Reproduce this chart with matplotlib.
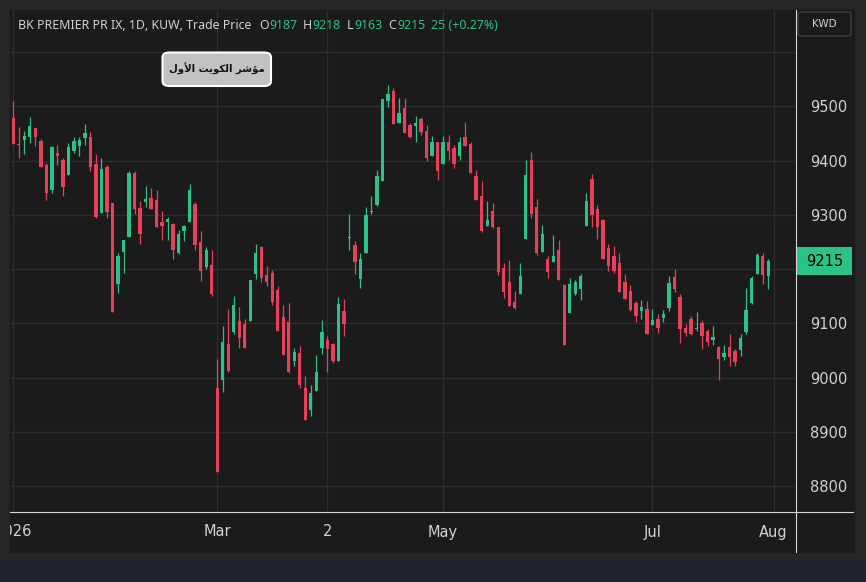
import numpy as np
import matplotlib.pyplot as plt
from matplotlib.patches import Rectangle, FancyBboxPatch
from matplotlib.lines import Line2D

# daily candles (one entry per trading day)
opens = [9478, 9431, 9438, 9443, 9460, 9436, 9391, 9345, 9414, 9401,
         9374, 9417, 9427, 9441, 9443, 9393, 9303, 9388, 9321, 9173,
         9232, 9260, 9377, 9312, 9323, 9332, 9327, 9287, 9287, 9283,
         9230, 9270, 9287, 9320, 9250, 9204, 9208, 8981, 8995, 9062,
         9084, 9104, 9099, 9104, 9191, 9241, 9189, 9193, 9162, 9112,
         9102, 9030, 9045, 8982, 8940, 8975, 9054, 9069, 9062, 9030,
         9123, 9258, 9245, 9182, 9230, 9305, 9318, 9362, 9509, 9528,
         9470, 9496, 9465, 9463, 9476, 9454, 9408, 9434, 9393, 9435,
         9424, 9408, 9443, 9430, 9371, 9334, 9280, 9308, 9277, 9203,
         9177, 9140, 9155, 9256, 9402, 9315, 9232, 9219, 9213, 9235,
         9171, 9119, 9154, 9163, 9280, 9366, 9311, 9291, 9239, 9224,
         9211, 9176, 9160, 9138, 9123, 9126, 9097, 9108, 9110, 9128,
         9186, 9149, 9091, 9108, 9089, 9101, 9086, 9069, 9056, 9038,
         9056, 9049, 9051, 9084, 9138, 9191, 9224, 9187]
highs = [9509, 9462, 9454, 9480, 9460, 9440, 9396, 9427, 9428, 9404,
         9432, 9443, 9443, 9467, 9452, 9412, 9404, 9391, 9321, 9230,
         9253, 9380, 9380, 9325, 9354, 9349, 9345, 9307, 9296, 9285,
         9272, 9282, 9357, 9324, 9270, 9241, 9235, 9034, 9095, 9127,
         9150, 9130, 9108, 9180, 9246, 9243, 9206, 9198, 9169, 9134,
         9137, 9054, 9058, 9003, 8986, 9041, 9106, 9077, 9064, 9149,
         9145, 9302, 9252, 9230, 9314, 9334, 9382, 9513, 9539, 9533,
         9515, 9515, 9469, 9482, 9480, 9465, 9445, 9435, 9445, 9448,
         9428, 9443, 9472, 9435, 9382, 9363, 9326, 9321, 9278, 9212,
         9216, 9160, 9212, 9402, 9415, 9330, 9282, 9225, 9263, 9254,
         9173, 9184, 9180, 9191, 9341, 9376, 9318, 9293, 9246, 9243,
         9230, 9191, 9171, 9141, 9143, 9141, 9126, 9117, 9125, 9187,
         9200, 9154, 9099, 9114, 9121, 9106, 9090, 9095, 9058, 9060,
         9080, 9053, 9080, 9165, 9187, 9230, 9230, 9218]
lows = [9431, 9405, 9412, 9433, 9427, 9388, 9327, 9341, 9391, 9334,
        9374, 9414, 9408, 9428, 9380, 9295, 9303, 9295, 9121, 9156,
        9193, 9260, 9302, 9247, 9314, 9310, 9278, 9254, 9254, 9219,
        9228, 9252, 9287, 9235, 9178, 9200, 9150, 8826, 8973, 9010,
        9080, 9054, 9054, 9104, 9182, 9176, 9169, 9134, 9086, 9042,
        9008, 9021, 8982, 8922, 8929, 8975, 9043, 9010, 9027, 9030,
        9077, 9235, 9191, 9166, 9229, 9301, 9317, 9362, 9498, 9467,
        9470, 9450, 9441, 9434, 9448, 9400, 9408, 9365, 9393, 9402,
        9387, 9402, 9426, 9378, 9328, 9269, 9280, 9275, 9190, 9147,
        9133, 9127, 9155, 9256, 9295, 9227, 9232, 9184, 9213, 9180,
        9060, 9119, 9152, 9143, 9280, 9278, 9256, 9219, 9197, 9193,
        9158, 9145, 9123, 9102, 9108, 9080, 9097, 9082, 9102, 9123,
        9158, 9064, 9077, 9078, 9086, 9053, 9058, 9060, 8995, 9032,
        9021, 9021, 9040, 9080, 9136, 9191, 9173, 9163]
closes = [9431, 9429, 9445, 9464, 9443, 9388, 9341, 9425, 9408, 9351,
          9425, 9436, 9438, 9451, 9388, 9297, 9384, 9306, 9121, 9225,
          9253, 9377, 9310, 9264, 9330, 9310, 9278, 9280, 9293, 9235,
          9265, 9280, 9346, 9245, 9197, 9235, 9154, 8826, 9066, 9012,
          9134, 9073, 9054, 9180, 9230, 9184, 9176, 9139, 9086, 9042,
          9010, 9047, 8986, 8922, 8971, 9010, 9084, 9053, 9030, 9136,
          9099, 9260, 9213, 9219, 9299, 9308, 9371, 9513, 9522, 9467,
          9487, 9450, 9443, 9469, 9452, 9404, 9434, 9380, 9435, 9417,
          9393, 9434, 9426, 9378, 9328, 9271, 9291, 9277, 9194, 9158,
          9133, 9129, 9188, 9373, 9302, 9229, 9264, 9194, 9224, 9180,
          9060, 9173, 9176, 9187, 9326, 9300, 9278, 9219, 9206, 9197,
          9158, 9145, 9125, 9114, 9130, 9080, 9106, 9091, 9117, 9174,
          9163, 9090, 9082, 9080, 9091, 9077, 9066, 9075, 9034, 9045,
          9038, 9029, 9073, 9125, 9184, 9226, 9190, 9215]

tick_pos = [0, 37, 57, 78, 116, 138]
tick_labels = ["2026", "Mar", "2", "May", "Jul", "Aug"]
price_ticks = [8800, 8900, 9000, 9100, 9200, 9300, 9400, 9500, 9600]

symbol = "BK PREMIER PR IX, 1D, KUW, Trade Price"
currency = "KWD"
# "مؤشر الكويت الأول" already joined into presentation forms (visual order),
# matplotlib does no arabic shaping of its own
label_ar = "\uFEDD\uFEED\uFEF7\uFE8D \uFE96\uFEF3\uFEEE\uFEDC\uFEDF\uFE8D \uFEAE\uFEB7\uFE86\uFEE3"

UP = '#2bc287'
DOWN = '#e8405b'
BG = '#1b1b1b'
GRID = '#2d2d2d'
TXT = '#d1d1d1'

W, H = 866, 582
fig = plt.figure(figsize=(W / 100, H / 100), dpi=100)
fig.patch.set_facecolor('#262626')


def box(x0, y0, x1, y1):
    # pixel box (top-left origin) -> figure fraction
    return [x0 / W, 1 - y1 / H, (x1 - x0) / W, (y1 - y0) / H]


fig.patches.append(Rectangle((0, 0), 1, 21 / H, transform=fig.transFigure,
                             color='#1e222d', zorder=-2))
fig.patches.append(Rectangle((10 / W, 1 - 552 / H), 844 / W, 542 / H,
                             transform=fig.transFigure, color=BG, zorder=-2))

ax = fig.add_axes(box(10, 10, 796, 512))
ax.set_facecolor(BG)
n = len(opens)
x = np.arange(n)
o = np.array(opens)
c = np.array(closes)
up = c >= o
cols = np.where(up, UP, DOWN)

ax.vlines(x, lows, highs, colors=cols, linewidth=0.9, zorder=3)
bottom = np.minimum(o, c)
height = np.maximum(np.abs(c - o), 2)
ax.bar(x, height, bottom=bottom, width=0.6, color=cols, linewidth=0, zorder=4)

ax.set_xlim(-0.6, 142.05)
ax.set_ylim(8752.7, 9677.4)
ax.set_xticks(tick_pos)
ax.set_yticks(price_ticks)
# 9600 has no label, 9200 sits under the last price tag
ax.set_yticklabels([str(p) if p not in (9200, 9600) else '' for p in price_ticks])
ax.grid(True, color=GRID, linewidth=1)
ax.set_axisbelow(True)
for s in ax.spines.values():
    s.set_visible(False)
ax.tick_params(axis='x', length=0, labelbottom=False)
ax.tick_params(axis='y', left=False, labelleft=False, right=False, labelright=True,
               length=0, pad=10, colors=TXT, labelsize=10.5)

# last price tag on the price scale
tr = ax.get_yaxis_transform()
ax.add_patch(Rectangle((1.0013, closes[-1] - 25), 0.0699, 50, transform=tr,
                       facecolor=UP, edgecolor='none', clip_on=False, zorder=10))
ax.text(1.0363, closes[-1], str(closes[-1]), transform=tr, ha='center', va='center',
        color='black', fontsize=10.5, clip_on=False, zorder=11)

# time scale
tax = fig.add_axes(box(10, 512, 796, 552))
tax.set_xlim(ax.get_xlim())
tax.set_ylim(0, 1)
tax.axis('off')
for p, lab in zip(tick_pos, tick_labels):
    tax.text(p, 0.5, lab, ha='center', va='center', color=TXT, fontsize=10.5,
             clip_on=True)

# scale borders
fig.add_artist(Line2D([796 / W, 796 / W], [1 - 10 / H, 1 - 552 / H], color='#d6d6d6', lw=0.8))
fig.add_artist(Line2D([10 / W, 853 / W], [1 - 512 / H, 1 - 512 / H], color='#d6d6d6', lw=0.8))

# legend line
chg = closes[-1] - closes[-2]
pct = chg / closes[-2] * 100
pieces = [(18, symbol, TXT), (259, 'O', TXT), (269, str(opens[-1]), UP),
          (303, 'H', TXT), (312, str(highs[-1]), UP), (347, 'L', TXT),
          (354, str(lows[-1]), UP), (388, 'C', TXT), (397, str(closes[-1]), UP),
          (431, f"{chg} ({pct:+.2f}%)", UP)]
for px, s, col in pieces:
    fig.text(px / W, 1 - 25.5 / H, s, color=col, fontsize=8.9, va='center',
             family='Noto Sans')

# currency button
fig.add_artist(FancyBboxPatch((798 / W, 1 - 36 / H), 53 / W, 24 / H,
                              boxstyle='round,pad=0,rounding_size=0.004',
                              transform=fig.transFigure, facecolor=BG,
                              edgecolor='#3e3e3e', lw=1))
fig.text(824.5 / W, 1 - 24 / H, currency, color=TXT, fontsize=7.5, ha='center', va='center')

# text note drawn on the chart
fig.add_artist(FancyBboxPatch((162.5 / W, 1 - 86 / H), 108.5 / W, 33.5 / H,
                              boxstyle='round,pad=0,rounding_size=0.008',
                              transform=fig.transFigure, facecolor='#c2c2c2',
                              edgecolor='white', lw=1.5))
fig.text(216.5 / W, 1 - 69 / H, label_ar, color='#111111', fontsize=7.3,
         fontweight='bold', ha='center', va='center', family='DejaVu Sans')

fig.savefig('out.png', dpi=100, facecolor=fig.get_facecolor())
